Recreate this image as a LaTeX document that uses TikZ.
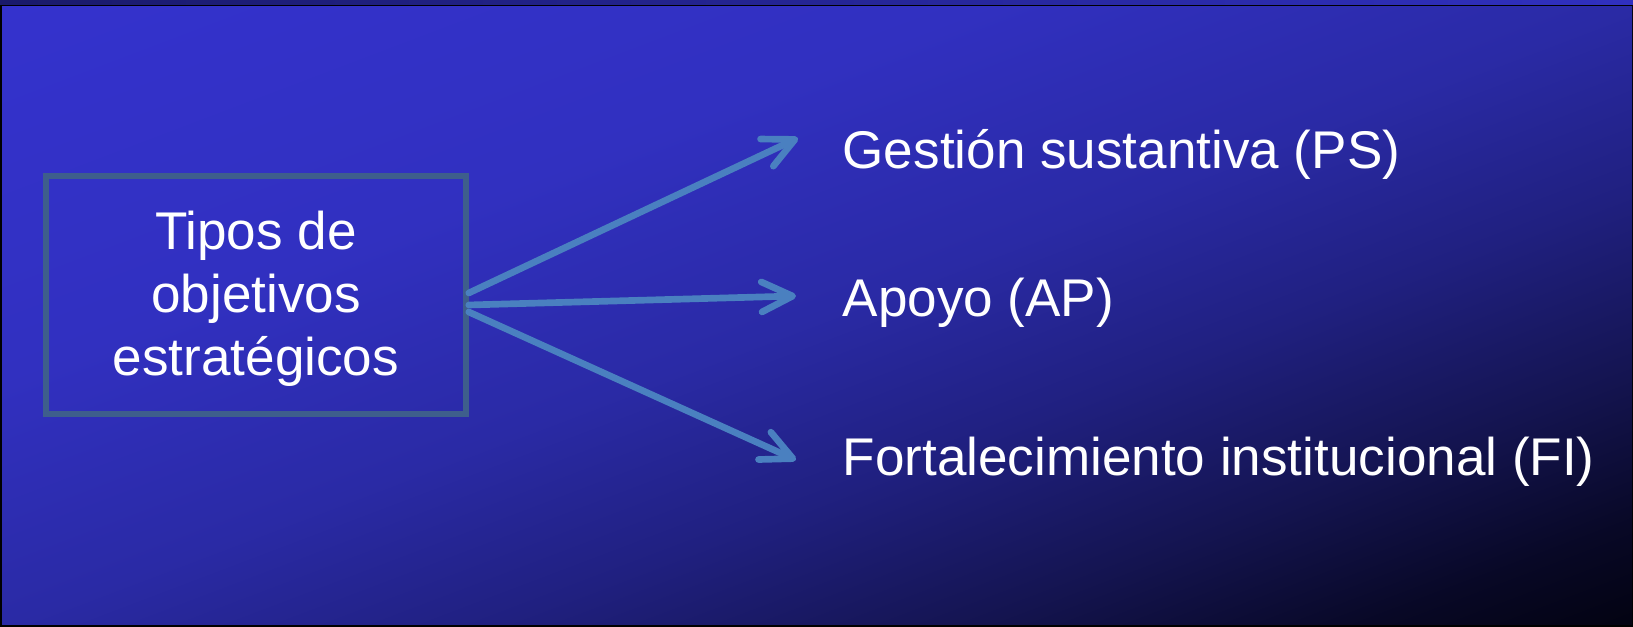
\documentclass[tikz,border=0pt]{standalone}
\usepackage{fontspec}
\setmainfont{Liberation Sans}
\usetikzlibrary{arrows.meta}
\usetikzlibrary{positioning}
\definecolor{fondoA}{RGB}{52,50,205}
\definecolor{fondoB}{RGB}{49,48,192}
\definecolor{fondoC}{RGB}{42,42,165}
\definecolor{fondoD}{RGB}{32,32,128}
\definecolor{fondoE}{RGB}{20,20,80}
\definecolor{fondoF}{RGB}{8,8,38}
\definecolor{fondoG}{RGB}{3,3,18}
\definecolor{tiraA}{RGB}{26,26,106}
\definecolor{tiraB}{RGB}{48,48,192}
\definecolor{bordeazul}{RGB}{62,94,140}
\definecolor{flechaazul}{RGB}{74,128,192}
\pgfdeclarehorizontalshading{fondo}{100bp}{color(0bp)=(fondoA); color(14.64bp)=(fondoA); color(35.86bp)=(fondoB); color(50bp)=(fondoC); color(60.6bp)=(fondoD); color(71.2bp)=(fondoE); color(79.7bp)=(fondoF); color(85.36bp)=(fondoG); color(100bp)=(fondoG)}
\tikzstyle{tipos} = [rectangle, draw=bordeazul, line width=1.6pt, minimum width=4.2cm, minimum height=2.38cm, text=white, font=\fontsize{15.1pt}{18pt}\selectfont]
\tikzstyle{etiqueta} = [anchor=base west, inner sep=0pt, text=white, font=\fontsize{15.1pt}{18pt}\selectfont]
\tikzstyle{flecha} = [draw=flechaazul, line width=1.9pt, line cap=round, -{Straight Barb[length=3.1mm, width=3mm, round]}]

\begin{document}
\begin{tikzpicture}
 \useasboundingbox (0,0) rectangle (16.33,6.27);
 \fill[black] (0,0) rectangle (16.33,6.27);
 \begin{scope}[transform canvas={shift={(0.02,0.02)}, xscale=16.30, yscale=6.185}]
  \shade[shading=fondo, shading angle=-45] (0,0) rectangle (1,1);
 \end{scope}
 \shade[left color=tiraA, right color=tiraB] (0,6.225) rectangle (16.33,6.27);

 \node (obj) [tipos] at (2.56,3.32) {\raisebox{-0.05cm}[\height][\depth]{\begin{tabular}{c}
  Tipos de\\
  objetivos\\
  estratégicos
 \end{tabular}}};

 \node (ps) [etiqueta] at (8.42,4.58) {Gestión sustantiva (PS)};
 \node (ap) [etiqueta] at (8.42,3.10) {Apoyo (AP)};
 \node (fi) [etiqueta] at (8.42,1.51) {Fortalecimiento institucional (FI)};

 \coordinate (ps-tip) at (7.98,4.89);
 \coordinate (ap-tip) at (7.96,3.31);
 \coordinate (fi-tip) at (7.96,1.67);

 \draw[flecha] ([yshift=0.02cm]obj.east) -- (ps-tip);
 \draw[flecha] ([yshift=-0.1cm]obj.east) -- (ap-tip);
 \draw[flecha] ([yshift=-0.17cm]obj.east) -- (fi-tip);
\end{tikzpicture}
\end{document}
